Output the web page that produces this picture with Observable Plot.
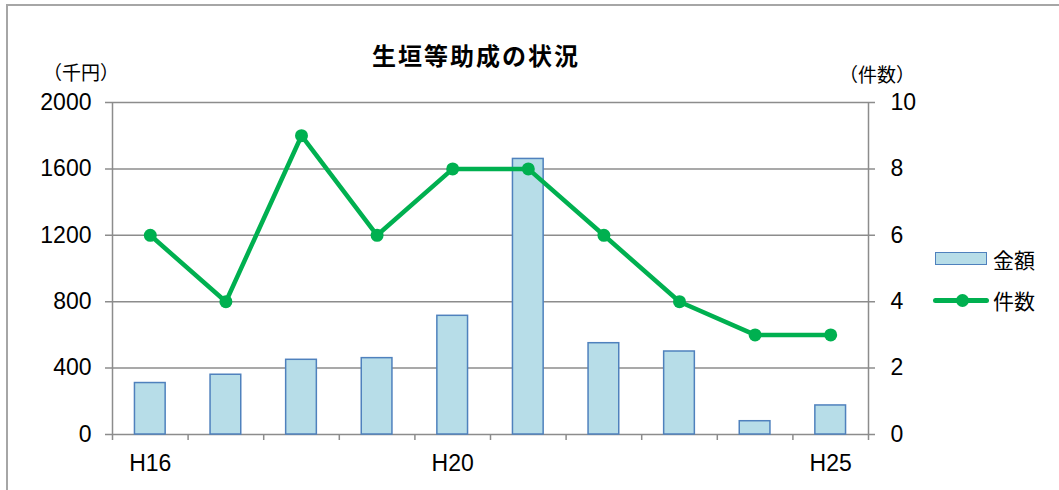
<!DOCTYPE html>
<html>
<head>
<meta charset="utf-8">
<script src="https://cdn.jsdelivr.net/npm/d3@7"></script>
<script src="https://cdn.jsdelivr.net/npm/@observablehq/plot@0.6"></script>
<style>
  body { margin: 0; background: #fff; }
  #wrap { position: relative; width: 1059px; height: 490px; overflow: hidden; background: #fff;
          font-family: "Liberation Sans", "Noto Sans CJK JP", sans-serif; color: #000; }
  #frame { position: absolute; left: 6px; top: 4px; width: 1120px; height: 600px;
           border: 2px solid #a6a6a6; box-sizing: border-box; }
  #chart { position: absolute; left: 0; top: 0; }
  .lbl { position: absolute; transform: translate(-50%, -50%); white-space: nowrap;
         font-family: "Noto Sans CJK JP", sans-serif; }
  #title { left: 476px; top: 54px; font-size: 24px; font-weight: bold; letter-spacing: 2px; }
  #unitL { left: 81px; top: 71px; font-size: 19px; }
  #unitR { left: 877px; top: 73px; font-size: 19px; }
  .leg { position: absolute; font-family: "Noto Sans CJK JP", sans-serif; font-size: 21px;
         transform: translateY(-50%); white-space: nowrap; }
  #swatch { position: absolute; left: 935px; top: 252px; width: 52px; height: 13px;
            background: #b7dde8; border: 1.5px solid #4f81bd; box-sizing: border-box; }
  #legLine { position: absolute; left: 933px; top: 298px; width: 56px; height: 5px;
             background: #00b050; border-radius: 2.5px; }
  #legDot { position: absolute; left: 956px; top: 294px; width: 13px; height: 13px;
            background: #00b050; border-radius: 50%; }
</style>
</head>
<body>
<div id="wrap">
  <div id="frame"></div>
  <div id="chart"></div>
  <div class="lbl" id="title">生垣等助成の状況</div>
  <div class="lbl" id="unitL">（千円）</div>
  <div class="lbl" id="unitR">（件数）</div>
  <div id="swatch"></div>
  <div class="leg" style="left:993px; top:259px;">金額</div>
  <div id="legLine"></div>
  <div id="legDot"></div>
  <div class="leg" style="left:993px; top:300px;">件数</div>
</div>
<script>
const years = ["H16","H17","H18","H19","H20","H21","H22","H23","H24","H25"];
const amounts = [310, 360, 450, 460, 715, 1660, 550, 500, 80, 175];
const counts = [6, 4, 9, 6, 8, 8, 6, 4, 3, 3];
const leftTicks = [0, 400, 800, 1200, 1600, 2000];
const rightTicks = [0, 2, 4, 6, 8, 10];
const xLabels = ["H16", "H20", "H25"];

const data = years.map((y, i) => ({year: y, amount: amounts[i], count: counts[i]}));
const countScale = leftTicks[leftTicks.length - 1] / rightTicks[rightTicks.length - 1];

const W = 1059, H = 490, mL = 112, mR = 191, mT = 102, mB = 56;
const step = (W - mL - mR) / years.length;
const plotH = H - mT - mB;
const gridColor = "#8c8c8c";

const chart = Plot.plot({
  width: W, height: H,
  marginLeft: mL, marginRight: mR, marginTop: mT, marginBottom: mB,
  style: {fontSize: "23px", fontFamily: '"Liberation Sans", Arial, sans-serif', color: "#000", background: "transparent", overflow: "visible"},
  x: {type: "band", domain: years, paddingInner: 0.594, paddingOuter: 0.297, round: false},
  y: {domain: [0, 2000]},
  marks: [
    Plot.ruleY(leftTicks, {y: d => d, stroke: gridColor, strokeWidth: 1.5, insetLeft: -7, insetRight: -7}),
    Plot.ruleX([years[0]], {x: d => d, dx: -step / 2, stroke: gridColor, strokeWidth: 1.5, insetBottom: -6}),
    Plot.ruleX([years[years.length - 1]], {x: d => d, dx: step / 2, stroke: gridColor, strokeWidth: 1.5, insetBottom: -6}),
    Plot.ruleX(years.slice(1), {x: d => d, dx: -step / 2, stroke: gridColor, strokeWidth: 1.5, insetTop: plotH, insetBottom: -6}),
    Plot.barY(data, {x: "year", y: "amount", fill: "#b7dde8", stroke: "#4f81bd", strokeWidth: 1.5}),
    Plot.line(data, {x: "year", y: d => d.count * countScale, stroke: "#00b050", strokeWidth: 4.5, strokeLinejoin: "round"}),
    Plot.dot(data, {x: "year", y: d => d.count * countScale, r: 6.5, fill: "#00b050", stroke: "none"}),
    Plot.axisY({anchor: "left", ticks: leftTicks, tickSize: 0, tickPadding: 21, label: null, tickFormat: d => String(d)}),
    Plot.axisY({anchor: "right", ticks: leftTicks, tickSize: 0, tickPadding: 22, label: null,
                tickFormat: d => String(rightTicks[leftTicks.indexOf(d)])}),
    Plot.axisX({ticks: xLabels, tickSize: 0, tickPadding: 20, label: null})
  ]
});
document.getElementById("chart").appendChild(chart);
</script>
</body>
</html>
